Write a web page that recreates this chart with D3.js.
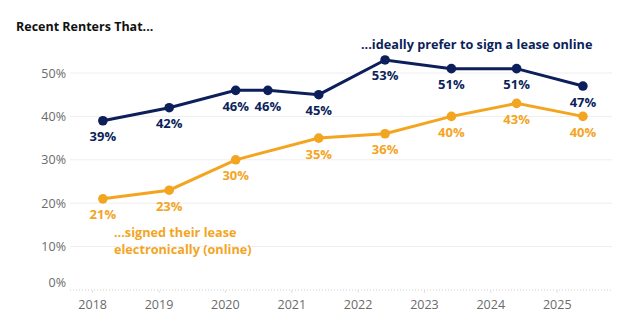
<!DOCTYPE html>
<head>
  <meta charset="utf-8">
  <script src="https://d3js.org/d3.v7.min.js"></script>
  <style>
    body { margin: 0; background: #fff; font-family: "Open Sans", sans-serif; }
    .tick text { font-family: "Open Sans", sans-serif; font-size: 12.5px; fill: #6b6b6b; }
    .grid line { stroke: #eeeeee; stroke-width: 1px; }
    .pt-label { font-size: 13px; font-weight: 700; text-anchor: middle; }
  </style>
</head>
<body>
  <script>
    // survey dates (approximate fieldwork month)
    var dates = ["2018-03-01", "2019-03-01", "2020-03-01", "2020-08-25", "2021-06-01",
                 "2022-06-01", "2023-06-01", "2024-05-25", "2025-05-25"];
    var preferOnline = [39, 42, 46, 46, 45, 53, 51, 51, 47];
    // no orange point at the second 2020 survey
    var signedOnline = [21, 23, 30, null, 35, 36, 40, 43, 40];
    var yTicks = [0, 10, 20, 30, 40, 50];
    var xTicks = [2018, 2019, 2020, 2021, 2022, 2023, 2024, 2025];

    var navy = "#0c1f5b", orange = "#f4a51f";
    var width = 624, height = 331;

    var svg = d3.select("body").append("svg")
      .attr("width", width)
      .attr("height", height);

    var parse = d3.timeParse("%Y-%m-%d");

    var x = d3.scaleTime()
      .domain([new Date(2017, 8, 1), new Date(2025, 10, 1)])
      .range([70, 612]);

    var y = d3.scaleLinear()
      .domain([0, 50])
      .range([290, 73]);

    // title
    svg.append("text")
      .attr("x", 16).attr("y", 31)
      .style("font-size", "12.5px")
      .style("font-weight", 700)
      .style("fill", "#111")
      .text("Recent Renters That...");

    // gridlines
    svg.append("g")
      .attr("class", "grid")
      .selectAll("line")
      .data(yTicks.filter(function(d) { return d > 0; }))
      .enter().append("line")
      .attr("x1", 70).attr("x2", 612)
      .attr("y1", function(d) { return y(d); })
      .attr("y2", function(d) { return y(d); });

    // y axis labels
    var yAxis = svg.append("g")
      .attr("transform", "translate(66,0)")
      .call(d3.axisLeft(y).tickValues(yTicks).tickSize(0).tickPadding(0)
        .tickFormat(function(d) { return d + "%"; }));
    yAxis.select(".domain").remove();
    yAxis.selectAll(".tick")
      .filter(function(d) { return d === 0; })
      .select("text").attr("dy", "-0.3em");

    // x axis
    var xAxis = svg.append("g")
      .attr("transform", "translate(0,290)")
      .call(d3.axisBottom(x)
        .tickValues(xTicks.map(function(d) { return new Date(d, 0, 1); }))
        .tickSize(3).tickPadding(7)
        .tickFormat(d3.timeFormat("%Y")));
    xAxis.select(".domain").remove();
    xAxis.selectAll(".tick line").attr("stroke", "#e2e2e2");
    xAxis.append("line")
      .attr("x1", 70).attr("x2", 612)
      .attr("stroke", "#cfcfcf")
      .attr("stroke-dasharray", "1,2");

    var line = d3.line()
      .defined(function(d) { return d.value != null; })
      .x(function(d) { return x(d.date); })
      .y(function(d) { return y(d.value); });

    function series(values, color) {
      var data = dates.map(function(d, i) { return { date: parse(d), value: values[i] }; })
        .filter(function(d) { return d.value != null; });
      var g = svg.append("g");
      g.append("path")
        .datum(data)
        .attr("fill", "none")
        .attr("stroke", color)
        .attr("stroke-width", 3)
        .attr("d", line);
      g.selectAll("circle")
        .data(data)
        .enter().append("circle")
        .attr("cx", function(d) { return x(d.date); })
        .attr("cy", function(d) { return y(d.value); })
        .attr("r", 4.8)
        .attr("fill", color);
      g.selectAll(".pt-label")
        .data(data)
        .enter().append("text")
        .attr("class", "pt-label")
        .attr("x", function(d) { return x(d.date); })
        .attr("y", function(d) { return y(d.value) + 20.5; })
        .style("fill", color)
        .text(function(d) { return d.value + "%"; });
    }

    series(signedOnline, orange);
    series(preferOnline, navy);

    // series annotations
    svg.append("text")
      .attr("x", 361).attr("y", 49)
      .style("font-size", "12.7px")
      .style("font-weight", 700)
      .style("fill", navy)
      .text("...ideally prefer to sign a lease online");

    var note = svg.append("text")
      .attr("x", 114).attr("y", 237)
      .style("font-size", "12.7px")
      .style("font-weight", 700)
      .style("fill", orange);
    note.append("tspan").attr("x", 114).text("...signed their lease");
    note.append("tspan").attr("x", 114).attr("dy", 17).text("electronically (online)");
  </script>
</body>
